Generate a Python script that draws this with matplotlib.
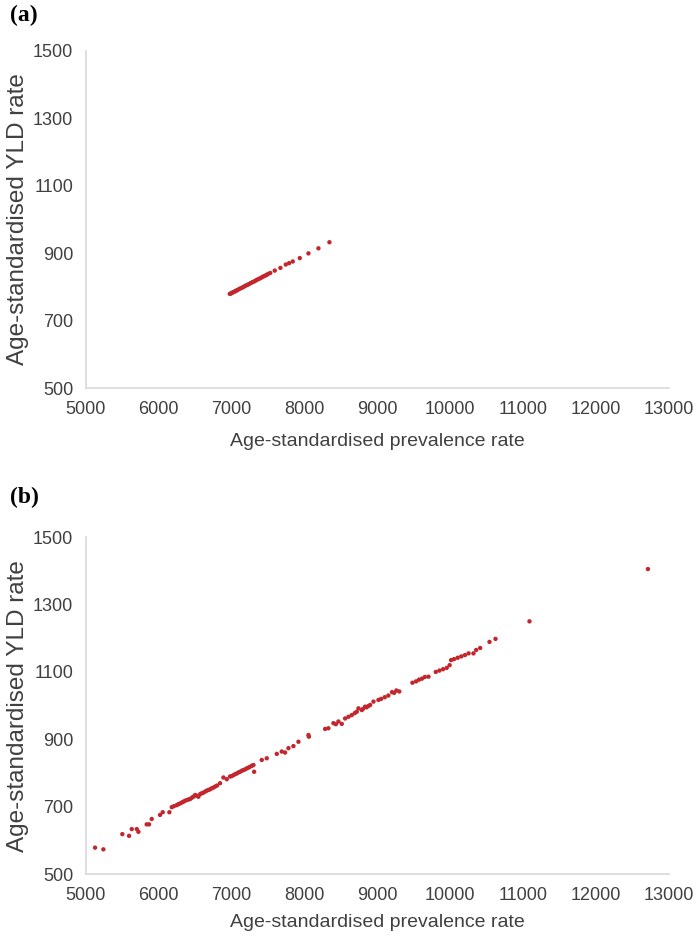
import matplotlib
matplotlib.use("Agg")
import matplotlib.pyplot as plt

# Panel (a)
prev_a = [6975, 6990, 7005, 7020, 7035, 7050, 7065, 7080, 7100, 7120, 7140, 7160,
          7180, 7200, 7220, 7240, 7260, 7280, 7300, 7320, 7340, 7360, 7380, 7400,
          7420, 7440, 7460, 7480, 7500, 7530, 7592, 7670, 7743, 7789, 7839, 7935,
          8054, 8191, 8342]
yld_a = [779, 780, 782, 784, 785, 787, 789, 790, 793, 795, 797, 799,
         802, 804, 806, 808, 811, 813, 815, 817, 820, 822, 824, 826,
         829, 831, 833, 835, 838, 841, 848, 856, 866, 870, 875, 885,
         899, 914, 932]

# Panel (b)
prev_b = [5128, 5242, 5502, 5594, 5631, 5700, 5722, 5836, 5868, 5905, 6019, 6056,
          6147, 6180, 6210, 6248, 6270, 6294, 6320, 6339, 6360, 6385, 6410, 6431,
          6455, 6476, 6499, 6520, 6545, 6570, 6591, 6612, 6637, 6660, 6682, 6705,
          6728, 6750, 6774, 6800, 6842, 6888, 6934, 6979, 7000, 7025, 7050, 7071,
          7095, 7117, 7140, 7162, 7185, 7208, 7230, 7254, 7280, 7300, 7309, 7414,
          7482, 7620, 7688, 7734, 7780, 7848, 7917, 8054, 8060, 8283, 8328, 8397,
          8430, 8465, 8511, 8557, 8603, 8648, 8690, 8717, 8740, 8786, 8800, 8831,
          8850, 8877, 8900, 8946, 9014, 9050, 9100, 9150, 9200, 9230, 9260, 9300,
          9480, 9530, 9570, 9610, 9650, 9700, 9800, 9850, 9900, 9950, 9990, 10010,
          10050, 10100, 10150, 10200, 10250, 10317, 10354, 10409, 10537, 10619,
          11085, 12709]
yld_b = [579, 574, 619, 614, 634, 634, 626, 648, 648, 664, 676, 684,
         684, 699, 702, 705, 708, 710, 713, 715, 718, 720, 722, 723,
         727, 730, 735, 733, 730, 738, 740, 742, 745, 748, 750, 752,
         755, 757, 760, 763, 770, 787, 782, 790, 791, 794, 797, 799,
         802, 804, 807, 809, 811, 814, 816, 819, 822, 824, 804, 839,
         844, 857, 864, 861, 874, 880, 893, 913, 908, 931, 933, 948,
         945, 953, 946, 962, 967, 972, 978, 982, 992, 987, 990, 997,
         995, 999, 1002, 1012, 1017, 1020, 1025, 1030, 1040, 1038, 1045, 1042,
         1068, 1072, 1077, 1080, 1085, 1086, 1100, 1104, 1108, 1112, 1120, 1135,
         1138, 1142, 1146, 1150, 1155, 1155, 1165, 1171, 1189, 1198,
         1250, 1405]

x_ticks = [5000, 6000, 7000, 8000, 9000, 10000, 11000, 12000, 13000]
y_ticks = [500, 700, 900, 1100, 1300, 1500]

plt.rcParams['font.family'] = ['Liberation Sans', 'DejaVu Sans']

fig = plt.figure(figsize=(6.97, 9.40), dpi=100)
ax_a = fig.add_axes([0.123, 0.5872, 0.837, 0.359])
ax_b = fig.add_axes([0.123, 0.0699, 0.837, 0.3588])

color = '#C1272D'
grey = '#D9D9D9'
text_col = '#404040'

for ax, xs, ys, xpad in [(ax_a, prev_a, yld_a, 11), (ax_b, prev_b, yld_b, 7)]:
    ax.scatter(xs, ys, s=10, color=color, edgecolors='none', zorder=3)
    ax.set_xlim(5000, 13000)
    ax.set_ylim(500, 1500)
    ax.set_xticks(x_ticks)
    ax.set_yticks(y_ticks)
    ax.tick_params(length=0, labelsize=13, colors=text_col, pad=9)
    for s in ['top', 'right']:
        ax.spines[s].set_visible(False)
    for s in ['left', 'bottom']:
        ax.spines[s].set_color(grey)
        ax.spines[s].set_linewidth(1.2)
    ax.set_xlabel('Age-standardised prevalence rate', fontsize=14, color=text_col, labelpad=xpad)
    ax.set_ylabel('Age-standardised YLD rate', fontsize=17.5, color=text_col, labelpad=3)

fig.text(0.014, 0.984, '(a)', fontsize=17, fontweight='bold', family='Liberation Serif', va='center')
fig.text(0.014, 0.471, '(b)', fontsize=17, fontweight='bold', family='Liberation Serif', va='center')

fig.savefig('out.png', dpi=100)
